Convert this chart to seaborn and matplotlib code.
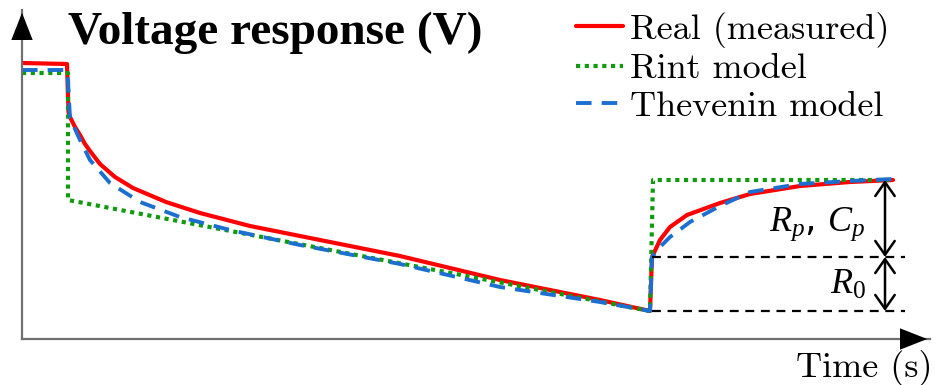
import matplotlib
matplotlib.use("Agg")
import matplotlib.pyplot as plt
import seaborn as sns
import pandas as pd

# time (s) and voltage (V)
real_t = [0, 9.0, 9.3, 9.6, 10.6, 11.6, 12.6, 13.6, 15.6, 18.6, 22.2, 28.8, 35.6, 45.6,
          55.6, 65.6, 75.6, 85.6, 95.6, 105.6, 115.6, 125.6,
          126.0, 127.6, 129.6, 133.0, 139.6, 145.6, 155.6, 165.6, 174.2]
real_v = [4.000, 3.995, 3.755, 3.730, 3.680, 3.640, 3.595, 3.560, 3.495, 3.430, 3.375,
          3.305, 3.250, 3.185, 3.135, 3.085, 3.035, 2.975, 2.915, 2.865, 2.815, 2.760,
          3.030, 3.115, 3.180, 3.240, 3.300, 3.345, 3.385, 3.405, 3.415]

rint_t = [0, 9.2, 9.2, 125.6, 126.2, 174.2]
rint_v = [3.950, 3.950, 3.315, 2.760, 3.415, 3.415]

thev_t = [0, 8.8, 9.2, 9.4, 9.6, 11.6, 13.6, 17.6, 23.6, 31.6, 41.6, 55.6, 75.6,
          95.6, 115.6, 125.6, 126.0, 127.6, 129.6, 133.6, 139.6, 145.6, 155.6,
          165.6, 174.2]
thev_v = [3.965, 3.965, 3.915, 3.815, 3.725, 3.615, 3.515, 3.400, 3.305, 3.230,
          3.165, 3.090, 2.995, 2.880, 2.805, 2.760, 3.030, 3.080, 3.130, 3.205,
          3.285, 3.355, 3.395, 3.410, 3.420]

labels = ["Real (measured)", "Rint model", "Thevenin model"]

# annotation levels
v_relax = 3.415
v_ohmic = 3.030
v_low = 2.760
t_ann = 172.6
t_line = (126.0, 176.6)

real = pd.DataFrame({"t": real_t, "v": real_v})
rint = pd.DataFrame({"t": rint_t, "v": rint_v})
thev = pd.DataFrame({"t": thev_t, "v": thev_v})

sns.set_style("white")
plt.rcParams["mathtext.fontset"] = "custom"
plt.rcParams["mathtext.it"] = "Liberation Serif:italic"
plt.rcParams["mathtext.rm"] = "Liberation Serif"
plt.rcParams["text.color"] = "black"

fig = plt.figure(figsize=(9.36, 3.85), dpi=100)
ax = fig.add_axes([22 / 936, 46 / 385, 908 / 936, 329 / 385])

sns.lineplot(data=real, x="t", y="v", ax=ax, sort=False, estimator=None,
             color="#ff0000", lw=3, label=labels[0])
sns.lineplot(data=rint, x="t", y="v", ax=ax, sort=False, estimator=None,
             color="#119a11", lw=3, linestyle=(0, (1, 1.1)), label=labels[1])
sns.lineplot(data=thev, x="t", y="v", ax=ax, sort=False, estimator=None,
             color="#1c6fd0", lw=2.8, linestyle=(0, (4, 2.6)), label=labels[2])

ax.set_xlim(0, 181.6)
ax.set_ylim(2.62, 4.265)
ax.set_xticks([])
ax.set_yticks([])
ax.set_xlabel("")
ax.set_ylabel("")
for s in ["top", "right"]:
    ax.spines[s].set_visible(False)
for s in ["left", "bottom"]:
    ax.spines[s].set_color("#707070")
    ax.spines[s].set_linewidth(1.6)

# axis arrowheads
ax.annotate("", xy=(1.0, 0), xytext=(0.96, 0), xycoords="axes fraction",
            arrowprops=dict(arrowstyle="-|>,head_length=1.4,head_width=0.55",
                            color="black", lw=0, mutation_scale=14))
ax.annotate("", xy=(0, 1.0), xytext=(0, 0.9), xycoords="axes fraction",
            arrowprops=dict(arrowstyle="-|>,head_length=1.4,head_width=0.55",
                            color="black", lw=0, mutation_scale=14))

# R0 / Rp,Cp annotation
ax.hlines([v_ohmic, v_low], t_line[0], t_line[1], colors="black",
          linestyles=(0, (4, 3)), lw=1.6)
arrow = dict(arrowstyle="<->,head_length=0.5,head_width=0.35", color="black",
             lw=1.8, mutation_scale=20, shrinkA=0, shrinkB=0)
ax.annotate("", xy=(t_ann, v_relax), xytext=(t_ann, v_ohmic), arrowprops=arrow)
ax.annotate("", xy=(t_ann, v_ohmic), xytext=(t_ann, v_low), arrowprops=arrow)
ax.text(168.8, (v_relax + v_ohmic) / 2 - 0.03, r"$\mathit{R_p}$, $\mathit{C_p}$",
        fontsize=26, ha="right", va="center")
ax.text(168.8, (v_ohmic + v_low) / 2, r"$\mathit{R_0}$", fontsize=26,
        ha="right", va="center")

fig.text(68 / 936, 1 - 33 / 385, "Voltage response (V)", fontsize=34,
         fontweight="bold", family="Liberation Serif", ha="left", va="center")
fig.text(932 / 936, 1 - 368 / 385, "Time (s)", fontsize=26, family="cmr10",
         ha="right", va="center")

ax.legend(loc="upper left", bbox_to_anchor=(576 / 936, 1 - 12 / 385),
          bbox_transform=fig.transFigure, frameon=False,
          prop={"family": "cmr10", "size": 26}, handlelength=1.3,
          handletextpad=0.2, labelspacing=0.14, borderpad=0, borderaxespad=0)

fig.savefig("out.png", dpi=100)
